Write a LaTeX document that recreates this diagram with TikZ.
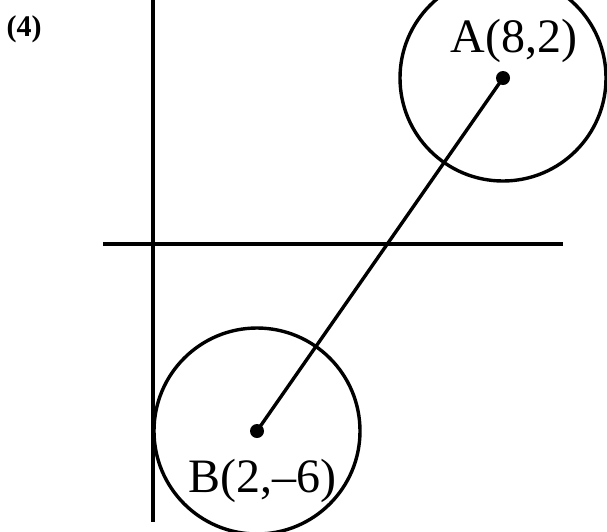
\documentclass[tikz,border=0pt]{standalone}
\usepackage{fontspec}
\setmainfont{Liberation Serif}
\begin{document}
\begin{tikzpicture}[x=1pt,y=-1pt,
  axis/.style={line width=3.4pt},
  ring/.style={circle,draw,line width=3.4pt,minimum size=206pt,inner sep=0pt},
  dotpt/.style={circle,fill,inner sep=0pt,minimum size=14pt},
  lbl/.style={font=\fontsize{48}{52}\selectfont,inner sep=0pt,anchor=base},
  tag/.style={font=\bfseries\fontsize{30}{34}\selectfont,inner sep=0pt,anchor=base}]
\useasboundingbox (0,0) rectangle (607,531);
\clip (0,0) rectangle (607,531);
% axes
\coordinate (ytop) at (153,-2);
\coordinate (ybot) at (153,522);
\coordinate (xl) at (103,244);
\coordinate (xr) at (563,244);
\draw[axis] (ytop) -- (ybot);
\draw[axis] (xl) -- (xr);
% points
\node[dotpt] (A) at (503,78) {};
\node[dotpt] (B) at (257,431) {};
% circles
\node[ring] (cA) at (A) {};
\node[ring] (cB) at (B) {};
% segment
\draw[line width=3.4pt] (A.center) -- (B.center);
% labels
\node[lbl] (la) at (514,52) {A(8,2)};
\node[lbl] (lb) at (262,492) {B(2,–6)};
\node[tag] (t4) at (24,36) {(4)};
\end{tikzpicture}
\end{document}
